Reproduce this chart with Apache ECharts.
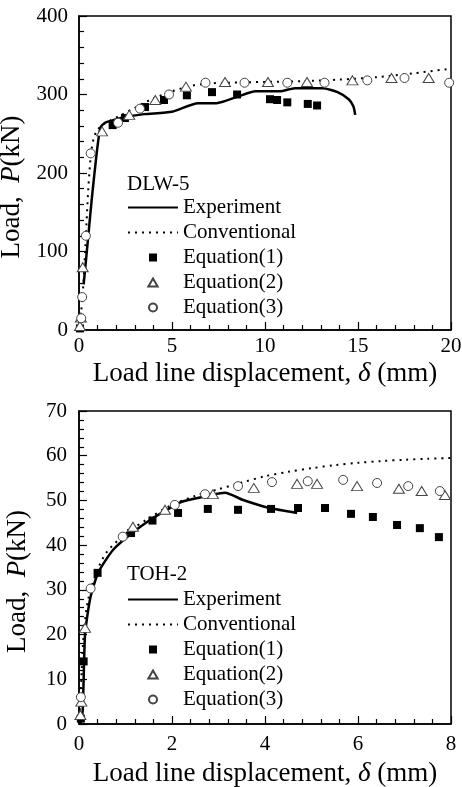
<!DOCTYPE html>
<html>
<head>
<meta charset="utf-8">
<script src="https://cdn.jsdelivr.net/npm/echarts@6/dist/echarts.min.js"></script>
<style>
html,body{margin:0;padding:0;background:#fff;}
#chart{width:462px;height:787px;}
</style>
</head>
<body>
<div id="chart"></div>
<script>
// ---------- Top panel: DLW-5 ----------
var expTopX = [0.25, 0.5, 0.7, 0.95, 1.15, 1.4, 1.8, 2.4, 3.5, 5.0, 6.4, 7.4, 8.5, 9.5, 10.8, 11.6, 13.1, 13.9, 14.5, 14.75, 14.85];
var expTopP = [58, 120, 170, 225, 258, 264, 267, 271, 275, 278, 289, 289, 297, 304, 304, 308, 308, 303, 294, 285, 274];
var convTopX = [0, 0.1, 0.2, 0.35, 0.5, 0.65, 0.8, 1.0, 1.3, 1.7, 2.2, 3, 4, 5, 6, 7, 8, 10, 12, 14, 16, 18, 20];
var convTopP = [0, 20, 45, 110, 180, 225, 245, 255, 262, 267, 273, 283, 295, 304, 311, 314, 315, 316, 317, 319, 322, 327, 333];
var eq1TopX = [0.05, 1.81, 2.47, 3.55, 4.57, 5.8, 7.15, 8.5, 10.27, 10.65, 11.2, 12.3, 12.8];
var eq1TopP = [2, 261, 270, 284, 293, 299, 303, 300, 294, 293, 290, 288, 286];
var eq2TopX = [0.05, 0.1, 0.2, 1.24, 2.7, 4.1, 5.75, 7.85, 10.16, 12.26, 14.7, 16.8, 18.8];
var eq2TopP = [5, 16, 80, 253, 274, 293, 310, 316, 316, 316, 318, 321, 321];
var eq3TopX = [0.12, 0.17, 0.37, 0.63, 2.1, 3.28, 4.84, 6.8, 8.9, 11.2, 13.2, 15.5, 17.5, 19.9];
var eq3TopP = [15, 42, 120, 225, 264, 282, 300, 315, 315, 315, 315, 318, 321, 315];

// ---------- Bottom panel: TOH-2 ----------
var expBotX = [0.03, 0.08, 0.13, 0.24, 0.41, 0.73, 1.14, 1.55, 1.89, 2.21, 2.67, 3.14, 3.53, 4.1, 4.69];
var expBotP = [0, 3, 20, 28, 33.8, 38.9, 42.7, 45.8, 47.9, 49.7, 50.8, 51.7, 50.1, 48.3, 47.2];
var convBotX = [0, 0.05, 0.1, 0.2, 0.4, 0.6, 1, 1.5, 2, 2.5, 3, 3.5, 4, 4.5, 5, 5.5, 6, 6.5, 7, 7.5, 8];
var convBotP = [0, 10, 20, 28, 34.5, 38.5, 42.5, 46, 49, 51, 52.5, 54, 55.4, 56.4, 57.2, 57.9, 58.4, 58.8, 59.1, 59.3, 59.5];
var eq1BotX = [0.04, 0.1, 0.4, 1.12, 1.58, 2.13, 2.77, 3.42, 4.13, 4.71, 5.29, 5.85, 6.32, 6.84, 7.33, 7.74];
var eq1BotP = [1.2, 14, 33.8, 42.7, 45.5, 47.2, 48.1, 47.9, 48.1, 48.3, 48.3, 47.0, 46.3, 44.5, 43.8, 41.8];
var eq2BotX = [0.03, 0.05, 0.13, 1.16, 1.85, 2.88, 3.76, 4.69, 5.12, 5.98, 6.88, 7.37, 7.87];
var eq2BotP = [2, 5, 21.5, 44.1, 47.9, 51.4, 52.8, 53.7, 53.7, 53.2, 52.6, 52.1, 51.2];
var eq3BotX = [0.04, 0.25, 0.94, 2.06, 2.71, 3.42, 4.15, 4.92, 5.68, 6.41, 7.08, 7.76];
var eq3BotP = [6, 30.3, 41.9, 49, 51.4, 53.2, 54.1, 54.3, 54.6, 53.9, 53.2, 52.1];

// axis ticks
var topXTicks = {min: 0, max: 20, interval: 5};
var topYTicks = {min: 0, max: 400, interval: 100};
var botXTicks = {min: 0, max: 8, interval: 2};
var botYTicks = {min: 0, max: 70, interval: 10};

var seriesNames = ['Experiment', 'Conventional', 'Equation(1)', 'Equation(2)', 'Equation(3)'];
var panelTitles = ['DLW-5', 'TOH-2'];

function zip(xs, ys) { return xs.map(function (x, i) { return [x, ys[i]]; }); }

var FONT = '"Liberation Serif", "Times New Roman", serif';

function xAxis(idx, t, labelMargin, nameGap) {
  return {
    type: 'value', gridIndex: idx, min: t.min, max: t.max, interval: t.interval,
    axisLine: {show: true, onZero: false, lineStyle: {color: '#000', width: 1.5}},
    axisTick: {show: true, inside: true, length: 8, lineStyle: {color: '#000', width: 1.2}},
    minorTick: {show: true, splitNumber: 5, length: 5, lineStyle: {color: '#000', width: 1.2}},
    splitLine: {show: false}, minorSplitLine: {show: false},
    axisLabel: {color: '#000', fontFamily: FONT, fontSize: 21, margin: labelMargin},
    name: '{a|Load line displacement, }{b|δ}{a| (mm)}',
    nameLocation: 'middle', nameGap: nameGap,
    nameTextStyle: {color: '#000', fontFamily: FONT, fontSize: 27,
      rich: {a: {fontFamily: FONT, fontSize: 27, color: '#000'},
             b: {fontFamily: FONT, fontSize: 27, color: '#000', fontStyle: 'italic'}}}
  };
}
function yAxis(idx, t, labelMargin) {
  return {
    type: 'value', gridIndex: idx, min: t.min, max: t.max, interval: t.interval,
    axisLine: {show: true, onZero: false, lineStyle: {color: '#000', width: 1.5}},
    axisTick: {show: true, inside: true, length: 8, lineStyle: {color: '#000', width: 1.2}},
    minorTick: {show: true, splitNumber: 5, length: 5, lineStyle: {color: '#000', width: 1.2}},
    splitLine: {show: false}, minorSplitLine: {show: false},
    axisLabel: {color: '#000', fontFamily: FONT, fontSize: 21, margin: labelMargin},
    name: '{a|Load,  }{b|P}{a|(kN)}',
    nameLocation: 'middle', nameGap: 48, nameRotate: 90,
    nameTextStyle: {color: '#000', fontFamily: FONT, fontSize: 27, padding: [0, 28, 0, 0],
      rich: {a: {fontFamily: FONT, fontSize: 27, color: '#000'},
             b: {fontFamily: FONT, fontSize: 27, color: '#000', fontStyle: 'italic'}}}
  };
}

function panelSeries(idx, ex, ey, cx, cy, e1x, e1y, e2x, e2y, e3x, e3y) {
  return [
    {name: seriesNames[0], type: 'line', xAxisIndex: idx, yAxisIndex: idx, data: zip(ex, ey),
     symbol: 'none', smooth: 0.2, lineStyle: {color: '#000', width: 2.5}, itemStyle: {color: '#000'}, z: 2},
    {name: seriesNames[1], type: 'line', xAxisIndex: idx, yAxisIndex: idx, data: zip(cx, cy),
     symbol: 'none', smooth: 0.3, lineStyle: {color: '#000', width: 2, type: [2, 5]}, itemStyle: {color: '#000'}, z: 2},
    {name: seriesNames[2], type: 'scatter', xAxisIndex: idx, yAxisIndex: idx, data: zip(e1x, e1y),
     symbol: 'rect', symbolSize: 8, itemStyle: {color: '#000', opacity: 1}, z: 3},
    {name: seriesNames[3], type: 'scatter', xAxisIndex: idx, yAxisIndex: idx, data: zip(e2x, e2y),
     symbol: 'triangle', symbolSize: [11, 9], itemStyle: {color: '#fff', borderColor: '#444', borderWidth: 1, opacity: 1}, z: 3},
    {name: seriesNames[4], type: 'scatter', xAxisIndex: idx, yAxisIndex: idx, data: zip(e3x, e3y),
     symbol: 'circle', symbolSize: 9, itemStyle: {color: '#fff', borderColor: '#444', borderWidth: 1, opacity: 1}, z: 3}
  ];
}

function legend(top) {
  return {
    orient: 'vertical', left: 127, top: top, padding: 0,
    itemWidth: 50, itemHeight: 8, itemGap: 4, selectedMode: false,
    symbolKeepAspect: true,
    textStyle: {color: '#000', fontFamily: FONT, fontSize: 21, lineHeight: 21},
    data: [
      {name: seriesNames[0], itemStyle: {opacity: 0}},
      {name: seriesNames[1], itemStyle: {opacity: 0}},
      {name: seriesNames[2], icon: 'path://M0,0L8,0L8,8L0,8Z'},
      {name: seriesNames[3], icon: 'path://M5,0L10,8.6L0,8.6Z'},
      {name: seriesNames[4]}
    ]
  };
}

var chart = echarts.init(document.getElementById('chart'), null, {renderer: 'canvas'});
chart.setOption({
  backgroundColor: '#fff',
  animation: false,
  title: [
    {text: panelTitles[0], left: 127, top: 174, padding: 0,
     textStyle: {color: '#000', fontFamily: FONT, fontSize: 21, fontWeight: 'normal'}},
    {text: panelTitles[1], left: 127, top: 564, padding: 0,
     textStyle: {color: '#000', fontFamily: FONT, fontSize: 21, fontWeight: 'normal'}}
  ],
  legend: [legend(197), legend(589)],
  grid: [
    {left: 79, top: 16, width: 372, height: 314, show: true, borderColor: '#000', borderWidth: 1.5,
     backgroundColor: 'transparent', containLabel: false, outerBoundsMode: 'none'},
    {left: 79, top: 411, width: 372, height: 313, show: true, borderColor: '#000', borderWidth: 1.5,
     backgroundColor: 'transparent', containLabel: false, outerBoundsMode: 'none'}
  ],
  xAxis: [xAxis(0, topXTicks, 6, 30), xAxis(1, botXTicks, 10, 36)],
  yAxis: [yAxis(0, topYTicks, 11), yAxis(1, botYTicks, 12)],
  series: panelSeries(0, expTopX, expTopP, convTopX, convTopP, eq1TopX, eq1TopP, eq2TopX, eq2TopP, eq3TopX, eq3TopP)
    .concat(panelSeries(1, expBotX, expBotP, convBotX, convBotP, eq1BotX, eq1BotP, eq2BotX, eq2BotP, eq3BotX, eq3BotP))
});
</script>
</body>
</html>
